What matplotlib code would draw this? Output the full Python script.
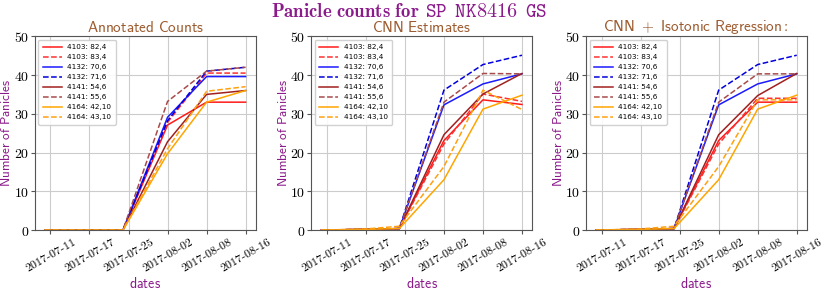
import matplotlib

matplotlib.use("Agg")
import matplotlib.pyplot as plt

plt.rcParams.update({
    "mathtext.fontset": "cm",
    "font.family": "serif",
    "font.serif": ["DejaVu Serif"],
})

PURPLE = "#8b1a8b"
SIENNA = "#9c5a2e"

# data: days since 2017-07-11
days = [-1, 7, 13, 21, 28, 35]
tick_days = [0, 7, 14, 21, 28, 35]
tick_labels = ["2017-07-11", "2017-07-17", "2017-07-25",
               "2017-08-02", "2017-08-08", "2017-08-16"]

labels = ["4103: 82,4", "4103: 83,4", "4132: 70,6", "4132: 71,6",
          "4141: 54,6", "4141: 55,6", "4164: 42,10", "4164: 43,10"]
colors = ["#ff1a1a", "#ff3030", "#1a1aff", "#0000dd",
          "#a0201f", "#a84a4a", "#ffa500", "#ffa010"]
styles = ["-", "--", "-", "--", "-", "--", "-", "--"]

annotated = [
    [0, 0, 0, 27.1, 33.0, 33.0],
    [0, 0, 0, 27.8, 40.5, 40.5],
    [0, 0, 0, 29.1, 39.6, 39.6],
    [0, 0, 0, 28.2, 41.0, 42.0],
    [0, 0, 0, 22.8, 35.0, 36.0],
    [0, 0, 0, 33.2, 41.0, 42.0],
    [0, 0, 0, 19.7, 33.0, 36.0],
    [0, 0, 0, 21.0, 35.8, 37.0],
]
cnn = [
    [0, 0.2, 0.4, 23.1, 33.6, 32.4],
    [0, 0.2, 0.4, 22.2, 35.1, 33.2],
    [0, 0.2, 0.4, 32.3, 37.7, 40.3],
    [0, 0.2, 0.4, 36.1, 42.7, 45.1],
    [0, 0.2, 0.4, 24.6, 35.1, 40.4],
    [0, 0.2, 0.4, 33.0, 40.4, 40.3],
    [0, 0.2, 0.4, 13.0, 31.2, 34.8],
    [0, 0.3, 1.0, 16.4, 36.1, 31.1],
]
isotonic = [
    [0, 0.2, 0.4, 23.1, 33.0, 33.0],
    [0, 0.2, 0.4, 22.2, 34.0, 34.0],
    [0, 0.2, 0.4, 32.3, 37.7, 40.3],
    [0, 0.2, 0.4, 36.1, 42.7, 45.1],
    [0, 0.2, 0.4, 24.6, 34.7, 40.4],
    [0, 0.2, 0.4, 33.0, 40.3, 40.3],
    [0, 0.2, 0.4, 13.0, 31.2, 34.8],
    [0, 0.3, 1.0, 16.4, 33.6, 33.6],
]

panels = [
    (r"$\mathsf{Annotated\ Counts}$", annotated),
    (r"$\mathsf{CNN\ Estimates}$", cnn),
    (r"$\mathsf{CNN}\ +\ \mathsf{Isotonic\ Regression}\mathsf{:}$", isotonic),
]


def sf_label(t):
    parts = t.split("-")
    return "$" + r"\text{-}".join(r"\mathsf{%s}" % p for p in parts) + "$"


fig = plt.figure(figsize=(8.3, 3.02), dpi=100)
lefts = [0.042, 0.375, 0.706]
for left, (title, series) in zip(lefts, panels):
    ax = fig.add_axes([left, 0.238, 0.266, 0.642])
    for y, lab, c, ls in zip(series, labels, colors, styles):
        ax.plot(days, y, ls, color=c, lw=1.1, label=lab)
    ax.set_ylim(0, 50)
    ax.set_yticks([0, 10, 20, 30, 40, 50])
    ax.set_yticklabels([rf"${v}$" for v in [0, 10, 20, 30, 40, 50]], fontsize=10)
    ax.set_xticks(tick_days)
    ax.set_xticklabels([sf_label(t) for t in tick_labels],
                       rotation=30, ha="center", fontsize=8.5)
    ax.grid(True, color="#cccccc", lw=0.8)
    for s in ax.spines.values():
        s.set_color("#555555")
    ax.tick_params(length=3, color="#555555", pad=1)
    ax.set_title(title, color=SIENNA, fontsize=11, pad=3)
    ax.set_ylabel(r"$\mathsf{Number\ of\ Panicles}$", color=PURPLE, fontsize=9.5)
    ax.yaxis.set_label_coords(-0.097, 0.5)
    ax.set_xlabel(r"$\mathsf{dates}$", color=PURPLE, fontsize=10)
    ax.xaxis.set_label_coords(0.5, -0.235)
    ax.legend(loc="upper left", handlelength=2.6,
              labelspacing=0.55, borderpad=0.6, framealpha=0.9,
              prop={"family": "DejaVu Sans", "size": 5.2})

fig.text(0.506, 0.945, r"$\mathbf{Panicle\ counts\ for}$",
         color=PURPLE, fontsize=13.5, ha="right", va="baseline")
fig.text(0.512, 0.945, r"$\mathtt{SP}\ \,\mathtt{NK8416}\ \,\mathtt{GS}$",
         color=PURPLE, fontsize=14.5, ha="left", va="baseline")

fig.savefig("out.png", dpi=100, facecolor="white")
